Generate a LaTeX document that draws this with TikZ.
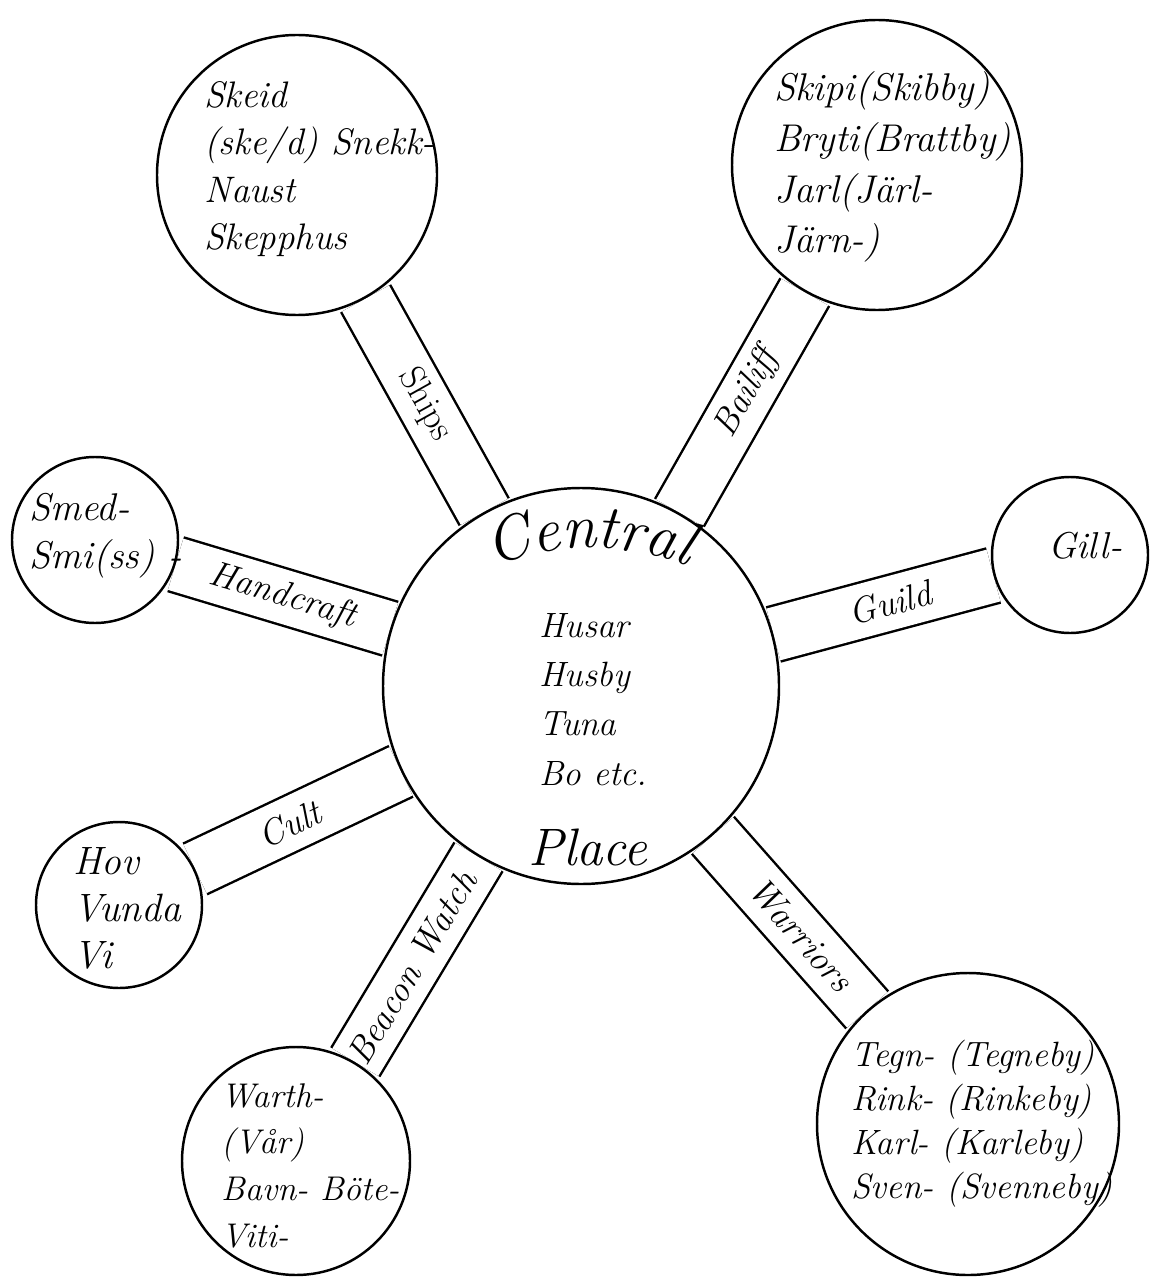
\documentclass[tikz,border=0pt]{standalone}
\usetikzlibrary{backgrounds, decorations.text}

\begin{document}
\begin{tikzpicture}[line width=1.4pt,
  place/.style={circle,draw,fill=white,inner sep=0pt},
  words/.style={anchor=base west,align=left,inner sep=0pt},
  band/.style={draw,line width=1.4pt,double=white,double distance=1.07cm},
  tag/.style={sloped,inner sep=0pt,font=\fontsize{20.5}{24}\selectfont\itshape}]

  \useasboundingbox (0,0) rectangle (23.06,-25.64);

  \node[place, minimum size=7.92cm] (cp) at (11.62,-13.72) {};
  \node[place, minimum size=5.6cm] (skeid) at (5.94,-3.5) {};
  \node[place, minimum size=5.8cm] (skipi) at (17.54,-3.3) {};
  \node[place, minimum size=3.32cm] (smed) at (1.9,-10.8) {};
  \node[place, minimum size=3.12cm] (gill) at (21.4,-11.1) {};
  \node[place, minimum size=3.32cm] (hov) at (2.38,-18.1) {};
  \node[place, minimum size=4.56cm] (warth) at (5.92,-23.22) {};
  \node[place, minimum size=6.04cm] (tegn) at (19.36,-22.48) {};

  \node[words, font=\fontsize{20}{27.9}\selectfont\itshape] (cptxt) at (10.76,-15.7) {Husar\\Husby\\Tuna\\Bo etc.};
  \node[anchor=base, inner sep=0pt, font=\fontsize{30}{32}\selectfont\itshape] (plc) at (11.76,-17.3) {Place};
  \path[decorate, decoration={text along path, text align=center,
      text={|\fontsize{35.5}{38}\selectfont\itshape|Central}}]
    (11.8,-16.44) ++(115:5.48) arc[start angle=115, end angle=65, radius=5.48];

  \node[words, font=\fontsize{21}{27.1}\selectfont\itshape] (skeidtxt) at (4.06,-5.0) {Skeid\\(ske/d) Snekk-\\Naust\\Skepphus};
  \node[words, font=\fontsize{22}{29}\selectfont\itshape] (skipitxt) at (15.46,-5.06) {Skipi(Skibby)\\Bryti(Brattby)\\Jarl(Järl-\\Järn-)};
  \node[words, font=\fontsize{22}{27.3}\selectfont\itshape] (smedtxt) at (0.56,-11.36) {Smed-\\Smi(ss) -};
  \node[words, font=\fontsize{21.3}{24}\selectfont\itshape] (gilltxt) at (20.94,-11.16) {Gill-};
  \node[words, font=\fontsize{22.5}{26.5}\selectfont\itshape] (hovtxt) at (1.44,-19.36) {Hov\\Vunda\\Vi};
  \node[words, font=\fontsize{19.5}{26.5}\selectfont\itshape] (warthtxt) at (4.4,-24.94) {Warth-\\(Vår)\\Bavn- Böte-\\Viti-};
  \node[words, font=\fontsize{20}{24.9}\selectfont\itshape] (tegntxt) at (17.0,-23.96) {Tegn- (Tegneby)\\Rink- (Rinkeby)\\Karl- (Karleby)\\Sven- (Svenneby)};

  \begin{pgfonlayer}{background}
  \path[every edge/.style={band}]
    (cp) edge node[tag, pos=.5, font=\fontsize{20.5}{24}\selectfont\upshape] {Ships} (skeid)
    (cp) edge node[tag, pos=.54] {Bailiff} (skipi)
    (cp) edge node[tag, pos=.5] {Handcraft} (smed)
    (cp) edge node[tag, pos=.53] {Guild} (gill)
    (cp) edge node[tag, pos=.54] {Cult} (hov)
    (cp) edge node[tag, pos=.54] {Beacon Watch} (warth)
    (cp) edge node[tag, pos=.57] {Warriors} (tegn);
  \end{pgfonlayer}
\end{tikzpicture}
\end{document}
